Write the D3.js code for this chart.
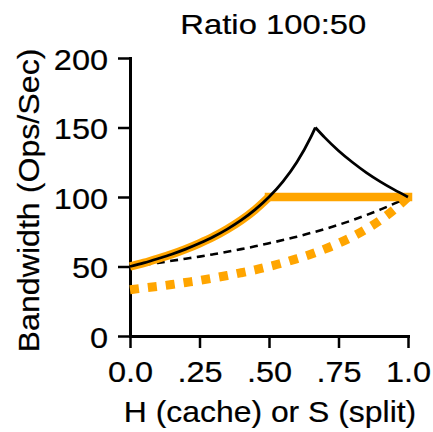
<!DOCTYPE html>
<html><head><meta charset="utf-8">
<script src="https://cdn.jsdelivr.net/npm/d3@7"></script>
<style>
html,body{margin:0;padding:0;background:#fff;}
svg text{font-family:"Liberation Sans",Arial,Helvetica,sans-serif;fill:#000;}
</style></head>
<body>
<svg id="chart" width="433" height="432"></svg>
<script>
// ---- data ----
const title = "Ratio 100:50";
const xLabel = "H (cache) or S (split)";
const yLabel = "Bandwidth (Ops/Sec)";
const xTickValues = [0, 0.25, 0.5, 0.75, 1.0];
const xTickLabels = ["0.0", ".25", ".50", ".75", "1.0"];
const yTickValues = [0, 50, 100, 150, 200];
const yTickLabels = ["0", "50", "100", "150", "200"];

const hValues = [0, 0.05, 0.1, 0.15, 0.2, 0.25, 0.3, 0.35, 0.4, 0.45, 0.5, 0.55, 0.6, 0.65, 0.6667, 0.7, 0.75, 0.8, 0.85, 0.9, 0.95, 1.0];
// black solid (rises to a peak at ~0.667, then falls)
const blackSolid = [50, 52.6, 55.6, 58.8, 62.5, 66.7, 71.4, 76.9, 83.3, 90.9, 100, 111.1, 125, 142.9, 150, 142.9, 133.3, 125, 117.6, 111.1, 105.3, 100];
// orange solid (rises to 100 at 0.5, then flat)
const orangeSolid = [50, 52.6, 55.6, 58.8, 62.5, 66.7, 71.4, 76.9, 83.3, 90.9, 100, 100, 100, 100, 100, 100, 100, 100, 100, 100, 100, 100];
// black dashed
const blackDashed = [50, 51.3, 52.6, 54.1, 55.6, 57.1, 58.8, 60.6, 62.5, 64.5, 66.7, 69.0, 71.4, 74.1, 75.0, 76.9, 80.0, 83.3, 87.0, 90.9, 95.2, 100];
// orange dotted
const orangeDotted = [33.3, 34.5, 35.7, 37.0, 38.5, 40.0, 41.7, 43.5, 45.5, 47.6, 50.0, 52.6, 55.6, 58.8, 60.0, 62.5, 66.7, 71.4, 76.9, 83.3, 90.9, 100];

// ---- layout ----
const svg = d3.select("#chart");
const x = d3.scaleLinear().domain([0, 1]).range([130, 408]);
const y = d3.scaleLinear().domain([0, 200]).range([336, 58]);
const ORANGE = "#FFA500";

function stretch(sel, k){
  sel.each(function(){
    const n = this.getComputedTextLength();
    d3.select(this).attr("textLength", n * k).attr("lengthAdjust", "spacingAndGlyphs");
  });
}
function styleText(sel, fs){
  sel.attr("font-size", fs).attr("fill","#000")
    .attr("font-family","Liberation Sans, Arial, sans-serif")
    .attr("stroke","#000").attr("stroke-width",0.2);
}

// axes
const gx = svg.append("g").attr("transform", `translate(0,${y(0)})`)
  .call(d3.axisBottom(x).tickValues(xTickValues).tickFormat((d,i)=>xTickLabels[i]).tickSize(12).tickSizeOuter(0).tickPadding(13.4));
const gy = svg.append("g").attr("transform", `translate(${x(0)},0)`)
  .call(d3.axisLeft(y).tickValues(yTickValues).tickFormat((d,i)=>yTickLabels[i]).tickSize(12).tickSizeOuter(0).tickPadding(10));
[gx, gy].forEach(g=>{
  g.select(".domain").attr("stroke","#000").attr("stroke-width",3).attr("stroke-linecap","square");
  g.selectAll(".tick line").attr("stroke","#000").attr("stroke-width",2.5);
  styleText(g.selectAll(".tick text"), 29);
});
gx.selectAll(".tick text").attr("dy","0.71em");
gy.selectAll(".tick text").attr("dy","0.39em");
stretch(gx.selectAll(".tick text"), 1.12);
stretch(gy.selectAll(".tick text"), 1.12);

// series helpers
function pts(vals){ return hValues.map((h,i)=>[h, vals[i]]); }
const lineSmooth = d3.line().x(d=>x(d[0])).y(d=>y(d[1])).curve(d3.curveMonotoneX);

const plot = svg.append("g");

// orange dotted
plot.append("path").datum(pts(orangeDotted)).attr("d", lineSmooth)
  .attr("fill","none").attr("stroke",ORANGE).attr("stroke-width",9).attr("stroke-dasharray","9,9");

// black dashed
plot.append("path").datum(pts(blackDashed)).attr("d", lineSmooth)
  .attr("fill","none").attr("stroke","#000").attr("stroke-width",2.6).attr("stroke-dasharray","8,5.5");

// orange solid: split at the corner (0.5)
const oPts = pts(orangeSolid);
const oKnee = hValues.indexOf(0.5);
plot.append("path").datum(oPts.slice(0, oKnee+1)).attr("d", lineSmooth)
  .attr("fill","none").attr("stroke",ORANGE).attr("stroke-width",8.5);
plot.append("path").datum(oPts.slice(oKnee)).attr("d", lineSmooth)
  .attr("fill","none").attr("stroke",ORANGE).attr("stroke-width",8.5).attr("stroke-linecap","square");

// black solid: split at the peak
const bPts = pts(blackSolid);
const bPeak = d3.maxIndex(blackSolid);
plot.append("path").datum(bPts.slice(0, bPeak+1)).attr("d", lineSmooth)
  .attr("fill","none").attr("stroke","#000").attr("stroke-width",2.8);
plot.append("path").datum(bPts.slice(bPeak)).attr("d", lineSmooth)
  .attr("fill","none").attr("stroke","#000").attr("stroke-width",2.8);

// titles
const t = svg.append("text").attr("x", 273.3).attr("y", 33.5).attr("text-anchor","middle").text(title);
styleText(t, 28.5); stretch(t, 1.15);
const xl = svg.append("text").attr("x", 270).attr("y", 421.7).attr("text-anchor","middle").text(xLabel);
styleText(xl, 29); stretch(xl, 1.1);
const yl = svg.append("text").attr("transform","translate(38.5,200.5) rotate(-90)").attr("text-anchor","middle").text(yLabel);
styleText(yl, 29.5); stretch(yl, 1.09);
</script>
</body></html>
